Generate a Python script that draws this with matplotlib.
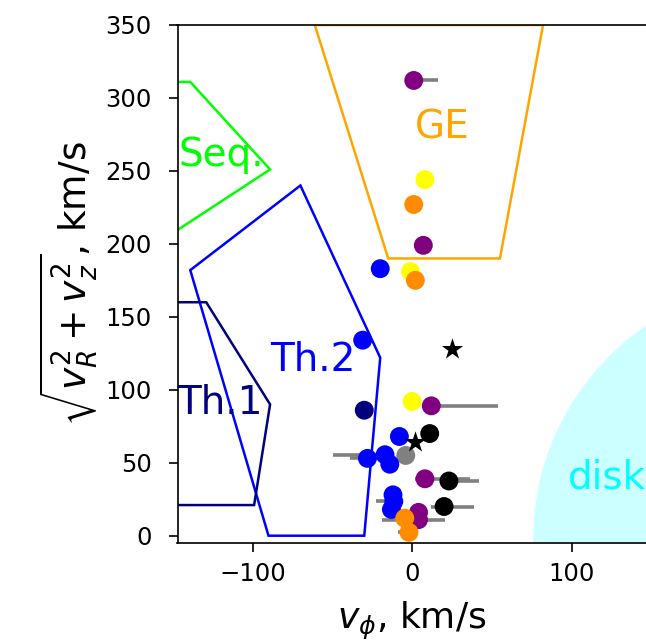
import matplotlib
matplotlib.use("Agg")
import matplotlib.pyplot as plt
from matplotlib.patches import Circle, Polygon

# selection boxes in (v_phi, sqrt(vR^2 + vz^2)) space
GE_BOX = [(-61, 350), (-15, 190), (55, 190), (82, 350)]
SEQ_BOX = [(-170, 311), (-139, 311), (-89, 251), (-170, 193)]
TH2_BOX = [(-139, 182), (-70, 240), (-20, 122), (-30, 0), (-90, 0)]
TH1_BOX = [(-170, 160), (-129, 160), (-89, 90), (-99, 21), (-170, 21)]
DISK_CENTER = (259, 0)
DISK_RADIUS = 183

# stars with measured velocities
vphi = [1, 8, 1, 7, -20, -1, 2, -31, 0, 12, -30, -8, 11, -4, -28, -17, -14,
        8, 23, 20, -12, -11.5, -13, 4, 4, -4.6, -2]
vperp = [312, 244, 227, 199, 183, 181, 175, 134, 92, 89, 86, 68, 70, 55, 53, 55.5, 49,
         39, 37.5, 20, 28, 23.5, 18, 16, 11, 12, 2.3]
err_lo = [3, 0, 0, 0, 0, 0, 0, 0, 0, 3, 0, 0, 0, 4, 11, 32.6, 0,
          6, 5, 8, 0, 11, 0, 0, 23, 0, 7]
err_hi = [15, 0, 0, 0, 0, 0, 0, 0, 0, 42, 0, 0, 0, 4, 0, 0, 0,
          28, 19, 19, 0, 0, 0, 0, 16.5, 0, 0]
colors = ["purple", "yellow", "darkorange", "purple", "blue", "yellow", "darkorange",
          "blue", "yellow", "purple", "navy", "blue", "black", "gray", "blue", "blue",
          "blue", "purple", "black", "black", "blue", "blue", "blue", "purple", "purple",
          "darkorange", "darkorange"]

star_vphi = [25, 2]
star_vperp = [128, 64]

fig = plt.figure(figsize=(6.46, 6.43), dpi=100)
ax = fig.add_axes([177.5 / 646, 1 - 543 / 643, 474.1 / 646, 518 / 643])

ax.add_patch(Circle(DISK_CENTER, DISK_RADIUS, color="cyan", alpha=0.2, lw=0, zorder=0))
for box, col in [(GE_BOX, "orange"), (SEQ_BOX, "lime"), (TH2_BOX, "blue"), (TH1_BOX, "navy")]:
    ax.add_patch(Polygon(box, closed=True, fill=False, ec=col, lw=1.8, zorder=1))

ax.errorbar(vphi, vperp, xerr=[err_lo, err_hi], fmt="none", ecolor="gray",
            elinewidth=2.6, capsize=0, zorder=2)
ax.scatter(vphi, vperp, c=colors, s=185, lw=0, zorder=3)
ax.scatter(star_vphi, star_vperp, marker="*", c="black", s=260, lw=0, zorder=4)

ax.text(-146.5, 261, "Seq.", color="lime", fontsize=28, va="center", ha="left")
ax.text(2, 279.5, "GE", color="orange", fontsize=28, va="center", ha="left")
ax.text(-89, 120.5, "Th.2", color="blue", fontsize=28, va="center", ha="left")
ax.text(-147, 91, "Th.1", color="navy", fontsize=28, va="center", ha="left")
ax.text(97.6, 39.7, "disk", color="cyan", fontsize=28, va="center", ha="left")

ax.set_xlim(-147, 150)
ax.set_ylim(-5, 350)
ax.set_xticks([-100, 0, 100])
ax.set_yticks(range(0, 351, 50))
ax.tick_params(labelsize=17.5, length=6.5, width=1.2)
ax.tick_params(axis="x", pad=7)
ax.tick_params(axis="y", pad=12)
ax.spines["right"].set_visible(False)
for s in ["left", "bottom", "top"]:
    ax.spines[s].set_linewidth(1.2)

ax.set_xlabel(r"$v_\phi$, km/s", fontsize=26)
ax.set_ylabel(r"$\sqrt{v_R^2+v_z^2}$, km/s", fontsize=27)
ax.xaxis.set_label_coords(0.495, -0.110)
ax.yaxis.set_label_coords(-0.163, 0.5)

fig.savefig("out.png", dpi=100)
